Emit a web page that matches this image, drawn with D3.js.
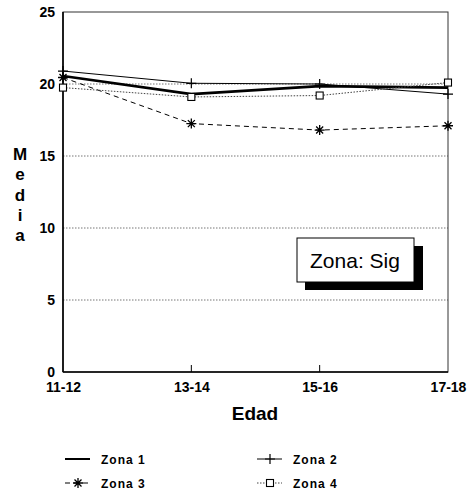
<!DOCTYPE html>
<html><head><meta charset="utf-8">
<script src="https://cdn.jsdelivr.net/npm/d3@7"></script>
<style>body{margin:0;background:#fff}svg{display:block}text{font-family:"Liberation Sans",Arial,sans-serif}</style>
</head><body><svg id="c" width="473" height="493"></svg>
<script>
const categories = ["11-12","13-14","15-16","17-18"];
const zona1 = [20.55, 19.3, 19.85, 19.75];
const zona2 = [20.9, 20.05, 20.0, 19.3];
const zona3 = [20.45, 17.25, 16.8, 17.1];
const zona4 = [19.75, 19.1, 19.2, 20.1];
const yTicks = [0,5,10,15,20,25];
const seriesNames = ["Zona 1","Zona 2","Zona 3","Zona 4"];

const svg = d3.select("#c");
const L=63,R=448,T=12,B=372;
const x = d3.scalePoint().domain(categories).range([L,R]).padding(0);
const y = d3.scaleLinear().domain([0,25]).range([B,T]);

// grid
svg.append("g").selectAll("line").data([5,10,15,20]).join("line")
  .attr("x1",L).attr("x2",R).attr("y1",d=>y(d)).attr("y2",d=>y(d))
  .attr("stroke","#777").attr("stroke-width",1).attr("stroke-dasharray","1.5,1.5");

// frame
svg.append("rect").attr("x",L).attr("y",T).attr("width",R-L).attr("height",B-T)
  .attr("fill","none").attr("stroke","#333").attr("stroke-width",1);
svg.append("line").attr("x1",L).attr("x2",L).attr("y1",T).attr("y2",B).attr("stroke","#000").attr("stroke-width",1.6);
svg.append("line").attr("x1",L).attr("x2",R).attr("y1",B).attr("y2",B).attr("stroke","#000").attr("stroke-width",1.6);

// y axis
const ya = svg.append("g").attr("transform",`translate(${L},0)`)
  .call(d3.axisLeft(y).tickValues(yTicks).tickSize(0).tickPadding(8));
ya.select(".domain").remove();
ya.selectAll("text").attr("font-size",14).attr("font-weight","bold").attr("fill","#000").attr("font-family","Liberation Sans, Arial, sans-serif");

// x axis
const xa = svg.append("g").attr("transform",`translate(0,${B})`)
  .call(d3.axisBottom(x).tickSize(0).tickPadding(10));
xa.select(".domain").remove();
xa.selectAll("text").attr("font-size",14).attr("font-weight","bold").attr("fill","#000").attr("font-family","Liberation Sans, Arial, sans-serif");
svg.append("g").selectAll("line").data(categories.slice(1,3)).join("line")
  .attr("x1",d=>x(d)).attr("x2",d=>x(d)).attr("y1",B).attr("y2",B-7).attr("stroke","#000");

// titles
const ylab = "Media".split("");
const ly=[160,180,201,221,241];
svg.append("g").selectAll("text").data(ylab).join("text")
  .attr("x",20).attr("y",(d,i)=>ly[i]).attr("text-anchor","middle")
  .attr("font-size",17).attr("font-weight","bold").text(d=>d);
svg.append("text").attr("x",255).attr("y",420).attr("text-anchor","middle")
  .attr("font-size",19).attr("font-weight","bold").text("Edad");

// markers
function plus(g,cx,cy,s){g.append("path").attr("d",`M${cx-s},${cy}H${cx+s}M${cx},${cy-s}V${cy+s}`).attr("stroke","#000").attr("stroke-width",1.2).attr("fill","none");}
function star(g,cx,cy,s){const a=s*0.7;g.append("path").attr("d",`M${cx-s},${cy}H${cx+s}M${cx},${cy-s}V${cy+s}M${cx-a},${cy-a}L${cx+a},${cy+a}M${cx-a},${cy+a}L${cx+a},${cy-a}`).attr("stroke","#000").attr("stroke-width",1.3).attr("fill","none");}
function sq(g,cx,cy,s){g.append("rect").attr("x",cx-s).attr("y",cy-s).attr("width",2*s).attr("height",2*s).attr("fill","#fff").attr("stroke","#000").attr("stroke-width",1.1);}

const line = d3.line().x((d,i)=>x(categories[i])).y(d=>y(d));
const styles = [
  {data:zona1,w:2.6,dash:null,col:"#000",mk:null},
  {data:zona2,w:1,dash:null,col:"#000",mk:plus},
  {data:zona3,w:1,dash:"5,4",col:"#000",mk:star},
  {data:zona4,w:1,dash:"1.5,1.5",col:"#444",mk:sq}
];
const plot = svg.append("g");
styles.forEach(s=>{
  plot.append("path").attr("d",line(s.data)).attr("fill","none").attr("stroke",s.col)
    .attr("stroke-width",s.w).attr("stroke-dasharray",s.dash);
});
styles.forEach(s=>{
  if(s.mk) s.data.forEach((v,i)=>s.mk(plot,x(categories[i]),y(v),s.mk===sq?3.5:5));
});

// annotation box
svg.append("rect").attr("x",305).attr("y",246).attr("width",118).attr("height",44).attr("fill","#000");
svg.append("rect").attr("x",297).attr("y",238).attr("width",117).attr("height",44).attr("fill","#fff").attr("stroke","#000").attr("stroke-width",1);
svg.append("text").attr("x",355).attr("y",268).attr("text-anchor","middle").attr("font-size",21).text("Zona: Sig");

// legend
const leg = [
  {sx:65,tx:101,y:459,st:styles[0],mk:null},
  {sx:257,tx:293,y:459,st:styles[1],mk:plus},
  {sx:65,tx:101,y:483,st:styles[2],mk:star},
  {sx:257,tx:293,y:483,st:styles[3],mk:sq}
];
leg.forEach((l,i)=>{
  const g=svg.append("g");
  g.append("line").attr("x1",l.sx).attr("x2",l.sx+25).attr("y1",l.y).attr("y2",l.y)
    .attr("stroke",l.st.col).attr("stroke-width",l.st.w===2.6?2:1).attr("stroke-dasharray",l.st.dash);
  if(l.mk) l.mk(g,l.sx+13,l.y,l.mk===sq?3.5:5);
  g.append("text").attr("x",l.tx).attr("y",l.y+4.5).attr("font-size",12).attr("font-weight","bold")
    .attr("letter-spacing",1).text(seriesNames[i]);
});
</script></body></html>
